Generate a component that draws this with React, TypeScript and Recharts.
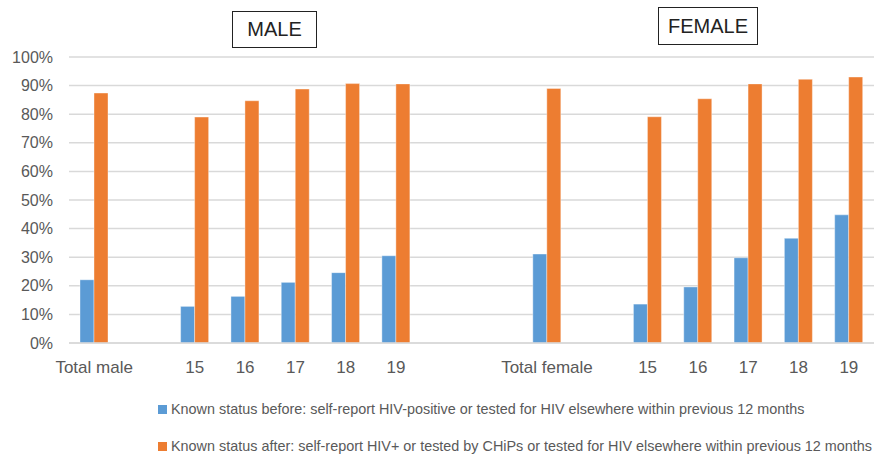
import { BarChart, Bar, XAxis, YAxis, CartesianGrid } from 'recharts'

const categories = ['Total male', '', '15', '16', '17', '18', '19', '', '', 'Total female', '', '15', '16', '17', '18', '19']
const knownBefore = [22.1, null, 12.8, 16.3, 21.2, 24.6, 30.5, null, null, 31.1, null, 13.6, 19.6, 29.8, 36.6, 44.8]
const knownAfter = [87.4, null, 79.0, 84.7, 88.8, 90.7, 90.6, null, null, 89.0, null, 79.1, 85.4, 90.6, 92.2, 93.0]
const yTicks = [0, 10, 20, 30, 40, 50, 60, 70, 80, 90, 100]

const legendBefore = 'Known status before: self-report HIV-positive or tested for HIV elsewhere within previous 12 months'
const legendAfter = 'Known status after: self-report HIV+ or tested by CHiPs or tested for HIV elsewhere within previous 12 months'

const BLUE = '#5B9BD5'
const ORANGE = '#ED7D31'
const TEXT = '#595959'
const FONT = '"Liberation Sans", Arial, sans-serif'

const data = categories.map((c, i) => ({
  label: c,
  before: knownBefore[i],
  after: knownAfter[i],
}))

const boxStyle = {
  position: 'absolute' as const,
  border: '1.5px solid #222',
  color: '#222',
  fontFamily: FONT,
  fontSize: 20,
  display: 'flex',
  alignItems: 'center',
  justifyContent: 'center',
  boxSizing: 'border-box' as const,
  background: '#fff',
}

export default function App() {
  return (
    <div style={{ position: 'absolute', left: 0, top: 0, width: 874, height: 456, background: '#fff', fontFamily: FONT }}>
      <BarChart
        width={874}
        height={456}
        data={data}
        margin={{ top: 57, right: 0, left: 0, bottom: 83 }}
        barGap={0}
        barSize={14}
      >
        <CartesianGrid vertical={false} stroke="#D9D9D9" strokeWidth={1.5} />
        <XAxis
          dataKey="label"
          height={30}
          axisLine={{ stroke: '#D9D9D9', strokeWidth: 1.5 }}
          tickLine={false}
          tickSize={0}
          tickMargin={18}
          interval={0}
          tick={{ fill: TEXT, fontSize: 17, fontFamily: FONT }}
        />
        <YAxis
          width={69}
          domain={[0, 100]}
          ticks={yTicks}
          tickFormatter={v => `${v}%`}
          axisLine={false}
          tickLine={false}
          tickSize={0}
          tickMargin={16}
          interval={0}
          tick={{ fill: TEXT, fontSize: 16, fontFamily: FONT }}
        />
        <Bar dataKey="before" fill={BLUE} stroke="#fff" strokeOpacity={0.5} strokeWidth={0.75} isAnimationActive={false} />
        <Bar dataKey="after" fill={ORANGE} stroke="#fff" strokeOpacity={0.5} strokeWidth={0.75} isAnimationActive={false} />
      </BarChart>

      <div style={{ ...boxStyle, left: 232, top: 11, width: 85, height: 37 }}>MALE</div>
      <div style={{ ...boxStyle, left: 658, top: 7, width: 100, height: 38 }}>FEMALE</div>

      {[
        { color: BLUE, text: legendBefore, top: 401 },
        { color: ORANGE, text: legendAfter, top: 438 },
      ].map(item => (
        <div
          key={item.text}
          style={{
            position: 'absolute',
            left: 158,
            top: item.top,
            display: 'flex',
            alignItems: 'center',
            whiteSpace: 'nowrap',
            fontSize: 14.4,
            color: TEXT,
          }}
        >
          <span style={{ width: 9, height: 9, background: item.color, marginRight: 4, display: 'inline-block' }} />
          {item.text}
        </div>
      ))}
    </div>
  )
}
